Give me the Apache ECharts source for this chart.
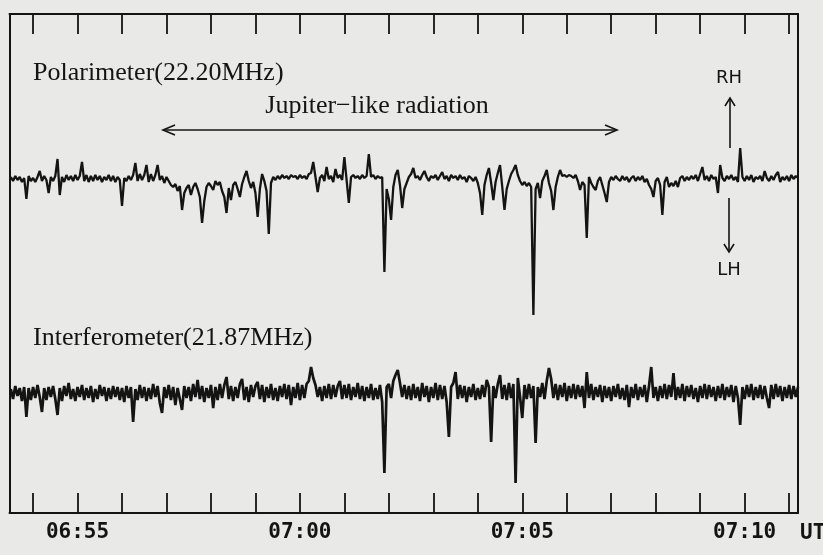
<!DOCTYPE html>
<html>
<head>
<meta charset="utf-8">
<script src="https://cdn.jsdelivr.net/npm/echarts@6/dist/echarts.min.js"></script>
<style>
  html, body { margin: 0; padding: 0; background: #e9e9e7; }
  #chart { width: 823px; height: 555px; }
</style>
</head>
<body>
<div id="chart"></div>
<script>
// time axis in minutes after 06:00 UT, one sample every 0.05 min
var T0 = 53.5;
var STEP = 0.05;
var minuteTicks = [54, 55, 56, 57, 58, 59, 60, 61, 62, 63, 64, 65, 66, 67, 68, 69, 70, 71];
var timeLabels = [55, 60, 65, 70];

// polarimeter 22.20MHz, deviation from its baseline (+ = RH, - = LH)
var polarimeter = [
  2, -2, 3, -1, 2, -3, 1, -20, 3, -2,
  1, -3, 2, 8, -2, 3, -1, -14, 2, -2,
  3, 20, -16, 2, -3, 4, -1, 3, -2, 4,
  -1, 3, 17, -2, 4, -3, 3, -2, 4, -1,
  3, -3, 2, -1, 4, -2, 3, -3, 2, -1,
  -27, 1, -2, 3, -1, 4, 16, -2, 5, -1,
  4, 14, -3, 5, -2, 4, 14, -1, 3, -4,
  2, -2, -6, -8, -5, -12, -7, -31, -14, -9,
  -6, -16, -8, -4, -10, -18, -44, -22, -8, -4,
  -7, -11, -2, -6, -3, -12, -18, -34, -9, -21,
  -6, -3, -10, -18, -5, 2, 8, -2, -9, -3,
  -14, -38, -10, 5, -2, -12, -55, -4, 2, -1,
  3, 0, 4, 1, 3, 0, 4, 2, 3, 0,
  4, 1, 3, 0, 5, 6, 17, 2, -13, 1,
  4, -2, 12, 0, 3, -3, 10, 1, 4, -1,
  22, -1, -24, 2, 4, 1, 3, 0, 4, 1,
  3, 25, 2, 4, 0, 3, 1, 2, -93, -10,
  -20, -41, -8, 4, 9, -6, -29, -10, -4, 2,
  5, 11, 1, 3, -1, 4, 8, 2, -2, 3,
  1, 4, -1, 3, 7, 0, 3, -2, 4, 1,
  3, -1, 4, 0, 2, -3, 3, 1, -2, 2,
  -4, -14, -36, -6, 4, 11, -4, -21, -3, 6,
  14, -8, -31, -10, -2, 5, 9, 14, 4, -2,
  -6, -3, -7, -4, -8, -136, -10, -4, -19, -2,
  3, 9, -4, -12, -31, -8, 2, 9, 3, 4,
  2, 4, 3, 1, 4, -2, -11, -3, -6, -59,
  2, -4, -8, -11, -2, 2, -6, -14, -23, -3,
  2, -1, 3, 0, -2, 3, -1, 2, -3, 1,
  3, -2, 2, -1, 3, -3, 0, -6, -10, -18,
  -2, 1, -6, -36, -3, 2, -8, -4, -7, -2,
  -8, 1, 3, -2, 2, -1, 3, 0, 4, -2,
  5, 12, -1, 3, -2, 4, 0, 2, -14, 14,
  1, -2, 3, 0, 4, -1, 2, -3, 31, 2,
  -2, 3, -1, 4, -3, 2, 0, 3, -2, 8,
  1, -2, 3, -1, 4, 7, -3, 2, -1, 3,
  -2, 4, 0, 3, 1
];

// interferometer 21.87MHz, deviation from its baseline
var interferometer = [
  4, -6, 7, -3, 5, -8, 6, -24, 5, -7,
  6, -5, 8, -4, -19, 5, -7, 6, -4, 7,
  -6, -22, 5, -8, 7, -3, 10, -6, 4, -8,
  6, -4, 8, -7, 5, -5, 7, -9, 4, -6,
  8, -3, 6, -8, 5, -6, 7, -4, 6, -7,
  5, -9, 7, -5, 6, -29, 4, -7, 8, -5,
  6, -8, 5, -6, 9, -4, 7, -10, -20, 6,
  -5, 8, -7, 6, -12, 5, -6, -17, 7, -5,
  6, -8, 9, -4, 13, -6, 7, -9, 5, -5,
  8, -15, 6, -7, 9, -5, 8, 16, -6, 7,
  -8, 6, -5, 9, 14, -7, 6, -9, 8, -4,
  7, 11, -6, 8, -9, 6, -5, 9, -7, 5,
  -8, 7, -4, 9, -6, 8, -12, 6, -5, 10,
  -7, 8, -5, 9, 12, 26, 15, 8, -4, 6,
  -8, 7, -5, 9, -6, 8, -4, 7, 12, -6,
  8, -5, 9, -7, 6, -4, 10, -6, 7, -8,
  6, -5, 9, -7, 5, -6, 8, -9, -80, 6,
  9, -5, 12, 18, 23, 10, -4, 8, -6, 7,
  -7, 9, -5, 6, -8, 10, -4, 7, -9, 6,
  -5, 10, -7, 8, -6, 7, -9, -44, 6, 10,
  21, -6, 8, -5, 7, -9, 6, -4, 9, -7,
  5, -6, 8, -4, 13, 6, -49, 7, -5, 9,
  18, -6, 8, -7, 10, -5, 9, -90, 15, -4,
  -25, 8, -6, 9, -5, 7, -50, 6, -4, 10,
  -6, 12, 25, 14, -5, 9, -7, 8, -4, 10,
  -8, 7, -5, 9, -6, 8, -4, 7, -15, 21,
  -5, 9, -7, 6, -4, 8, -9, 7, -5, 6,
  -8, 7, -4, 9, -6, 5, -7, 8, -14, 6,
  -5, 9, -7, 6, -4, 8, -9, 7, 26, -5,
  6, -8, 7, -5, 9, -6, 8, -4, 20, -7,
  6, -5, 9, -8, 7, -4, 8, -6, 5, -9,
  7, -5, 9, -6, 8, -4, 6, -8, 7, -5,
  9, -7, 6, -4, 8, -9, 7, -5, -32, 6,
  -6, 8, -4, 9, -7, 6, -5, 8, -6, 7,
  -5, -15, 8, -6, 9, -4, 7, -8, 6, -5,
  8, -6, 7, -4, 6
];

function toPairs(arr) {
  return arr.map(function (v, i) {
    return [T0 + i * STEP, v];
  });
}

function hhmm(m) {
  var h = Math.floor(m / 60) + 6;
  var mm = m % 60;
  return (h < 10 ? '0' : '') + h + ':' + (mm < 10 ? '0' : '') + mm;
}

var ink = '#141414';
var monoFont = '"DejaVu Sans Mono", "Liberation Mono", monospace';
var serifFont = '"Liberation Serif", "DejaVu Serif", serif';
var sansFont = '"DejaVu Sans", "Liberation Sans", sans-serif';

var chart = echarts.init(document.getElementById('chart'), null, { renderer: 'canvas' });

var timeAxis = {
  type: 'value',
  min: 53.47,
  max: 71.2,
  axisLine: { show: true, onZero: false, lineStyle: { color: ink, width: 2 } },
  axisTick: {
    show: true,
    inside: true,
    length: 20,
    customValues: minuteTicks,
    lineStyle: { color: ink, width: 1.8 }
  },
  splitLine: { show: false }
};

var option = {
  backgroundColor: '#e9e9e7',
  animation: false,
  grid: { left: 9.5, right: 25, top: 14, bottom: 42 },
  xAxis: [
    Object.assign({}, timeAxis, {
      position: 'bottom',
      axisLabel: {
        show: true,
        customValues: timeLabels,
        formatter: function (v) { return hhmm(v); },
        color: ink,
        fontFamily: monoFont,
        fontWeight: 'bold',
        fontSize: 21,
        margin: 9
      }
    }),
    Object.assign({}, timeAxis, {
      position: 'top',
      axisLabel: { show: false }
    })
  ],
  yAxis: [
    {
      type: 'value',
      min: -334,
      max: 165,
      position: 'left',
      axisLine: { show: true, onZero: false, lineStyle: { color: ink, width: 2 } },
      axisTick: { show: false },
      axisLabel: { show: false },
      splitLine: { show: false }
    },
    {
      type: 'value',
      min: -120,
      max: 379,
      position: 'right',
      axisLine: { show: true, onZero: false, lineStyle: { color: ink, width: 2 } },
      axisTick: { show: false },
      axisLabel: { show: false },
      splitLine: { show: false }
    }
  ],
  series: [
    {
      name: 'Polarimeter(22.20MHz)',
      type: 'line',
      xAxisIndex: 0,
      yAxisIndex: 0,
      data: toPairs(polarimeter),
      showSymbol: false,
      lineStyle: { color: ink, width: 2.3 }
    },
    {
      name: 'Interferometer(21.87MHz)',
      type: 'line',
      xAxisIndex: 0,
      yAxisIndex: 1,
      data: toPairs(interferometer),
      showSymbol: false,
      lineStyle: { color: ink, width: 2.7 }
    }
  ],
  graphic: [
    { type: 'text', x: 33, y: 73, style: { text: 'Polarimeter(22.20MHz)', font: '26px ' + serifFont, fill: ink, verticalAlign: 'middle' } },
    { type: 'text', x: 33, y: 338, style: { text: 'Interferometer(21.87MHz)', font: '26px ' + serifFont, fill: ink, verticalAlign: 'middle' } },
    { type: 'text', x: 377, y: 106, style: { text: 'Jupiter\u2212like radiation', font: '26px ' + serifFont, fill: ink, align: 'center', verticalAlign: 'middle' } },
    // double arrow under the label
    { type: 'line', shape: { x1: 163, y1: 130, x2: 617, y2: 130 }, style: { stroke: ink, lineWidth: 1.6 } },
    { type: 'polyline', shape: { points: [[175, 125], [163, 130], [175, 135]] }, style: { stroke: ink, lineWidth: 1.6, fill: null } },
    { type: 'polyline', shape: { points: [[605, 125], [617, 130], [605, 135]] }, style: { stroke: ink, lineWidth: 1.6, fill: null } },
    // RH / LH
    { type: 'text', x: 729, y: 78, style: { text: 'RH', font: '18px ' + sansFont, fill: ink, align: 'center', verticalAlign: 'middle' } },
    { type: 'line', shape: { x1: 730, y1: 148, x2: 730, y2: 98 }, style: { stroke: ink, lineWidth: 1.6 } },
    { type: 'polyline', shape: { points: [[725, 106], [730, 98], [735, 106]] }, style: { stroke: ink, lineWidth: 1.6, fill: null } },
    { type: 'line', shape: { x1: 729, y1: 198, x2: 729, y2: 252 }, style: { stroke: ink, lineWidth: 1.6 } },
    { type: 'polyline', shape: { points: [[724, 244], [729, 252], [734, 244]] }, style: { stroke: ink, lineWidth: 1.6, fill: null } },
    { type: 'text', x: 729, y: 270, style: { text: 'LH', font: '18px ' + sansFont, fill: ink, align: 'center', verticalAlign: 'middle' } },
    { type: 'text', x: 800, y: 534, style: { text: 'UT', font: 'bold 21px ' + monoFont, fill: ink, verticalAlign: 'middle' } }
  ]
};

chart.setOption(option);
</script>
</body>
</html>
